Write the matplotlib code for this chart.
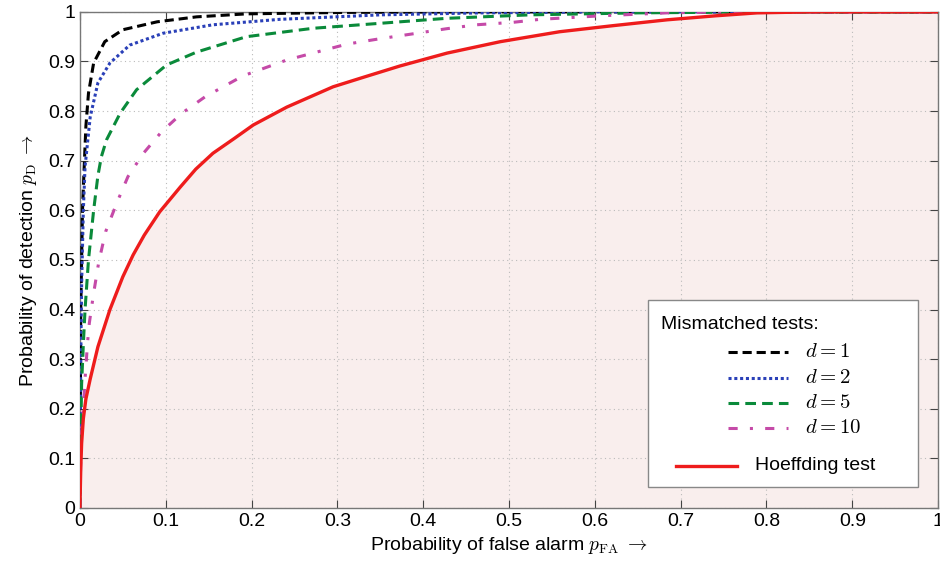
import matplotlib
matplotlib.use("Agg")
import matplotlib.pyplot as plt
from matplotlib.patches import Rectangle
from matplotlib.lines import Line2D

plt.rcParams['font.family'] = ['Liberation Sans', 'DejaVu Sans']
plt.rcParams['mathtext.fontset'] = 'cm'

# ROC curves (p_FA, p_D)
d1_x = [0, 0.001, 0.003, 0.005, 0.007, 0.010, 0.016, 0.029, 0.05, 0.09, 0.136, 0.194, 0.31, 0.45, 1.0]
d1_y = [0, 0.40, 0.60, 0.688, 0.77, 0.836, 0.897, 0.94, 0.964, 0.98, 0.99, 0.996, 0.999, 1.0, 1.0]

d2_x = [0, 0.001, 0.002, 0.004, 0.006, 0.012, 0.021, 0.035, 0.058, 0.097, 0.155, 0.233, 0.35, 0.466, 0.6, 1.0]
d2_y = [0, 0.30, 0.45, 0.60, 0.688, 0.788, 0.857, 0.897, 0.933, 0.957, 0.974, 0.985, 0.994, 0.998, 1.0, 1.0]

d5_x = [0, 0.001, 0.002, 0.004, 0.006, 0.010, 0.016, 0.021, 0.025, 0.031, 0.047, 0.066, 0.101, 0.136,
        0.194, 0.272, 0.35, 0.427, 0.524, 0.65, 0.8, 1.0]
d5_y = [0, 0.15, 0.25, 0.33, 0.40, 0.50, 0.60, 0.67, 0.708, 0.742, 0.796, 0.843, 0.893, 0.919,
        0.95, 0.967, 0.977, 0.987, 0.994, 0.998, 1.0, 1.0]

d10_x = [0, 0.001, 0.002, 0.004, 0.006, 0.009, 0.011, 0.016, 0.022, 0.030, 0.043, 0.056, 0.074, 0.095,
         0.119, 0.146, 0.19, 0.241, 0.276, 0.311, 0.35, 0.389, 0.427, 0.462, 0.505, 0.536, 0.606, 0.684,
         0.75, 1.0]
d10_y = [0, 0.10, 0.15, 0.20, 0.26, 0.335, 0.373, 0.433, 0.496, 0.557, 0.615, 0.668, 0.715, 0.758,
         0.796, 0.829, 0.871, 0.903, 0.919, 0.935, 0.946, 0.956, 0.966, 0.974, 0.979, 0.985, 0.992, 0.998,
         1.0, 1.0]

hoef_x = [0, 0.001, 0.002, 0.004, 0.007, 0.012, 0.021, 0.035, 0.05, 0.062, 0.075, 0.093, 0.117, 0.135,
          0.155, 0.18, 0.202, 0.241, 0.295, 0.33, 0.373, 0.428, 0.49, 0.559, 0.62, 0.684, 0.74, 0.789,
          0.85, 1.0]
hoef_y = [0, 0.08, 0.13, 0.18, 0.22, 0.26, 0.325, 0.40, 0.466, 0.51, 0.55, 0.597, 0.647, 0.683,
          0.715, 0.745, 0.772, 0.808, 0.849, 0.868, 0.891, 0.917, 0.94, 0.96, 0.972, 0.984, 0.992, 0.998,
          1.0, 1.0]

ticks = [0, 0.1, 0.2, 0.3, 0.4, 0.5, 0.6, 0.7, 0.8, 0.9, 1]
tick_labels = ['0', '0.1', '0.2', '0.3', '0.4', '0.5', '0.6', '0.7', '0.8', '0.9', '1']

fig = plt.figure(figsize=(9.4, 5.66), dpi=100)
ax = fig.add_axes([0.085, 0.1025, 0.913, 0.8765])

ax.fill_between(hoef_x, hoef_y, 0, color='#f9eeed', zorder=0, linewidth=0)

ax.plot(d1_x, d1_y, color='black', ls=(0, (3, 1.6)), lw=2.2, zorder=3)
ax.plot(d2_x, d2_y, color='#2a40b8', ls=(0, (1, 0.9)), lw=2.2, zorder=3)
ax.plot(d5_x, d5_y, color='#0a8a3a', ls=(0, (3.5, 2)), lw=2.2, zorder=3)
ax.plot(d10_x, d10_y, color='#c54aa8', ls=(0, (3, 4, 1, 4)), lw=2.2, zorder=3)
ax.plot(hoef_x, hoef_y, color='#ee1c1c', ls='-', lw=2.4, zorder=4)

ax.set_xlim(0, 1)
ax.set_ylim(0, 1)
ax.set_xticks(ticks)
ax.set_xticklabels(tick_labels)
ax.set_yticks(ticks)
ax.set_yticklabels(tick_labels)
ax.grid(True, ls=(0, (1, 3)), color='#bbbbbb', lw=0.8)
ax.tick_params(direction='in', top=True, right=True, length=6, labelsize=14, color='#444444')
for s in ax.spines.values():
    s.set_color('#777777')
    s.set_linewidth(1.0)

ax.set_xlabel(r'Probability of false alarm $p_{\mathrm{FA}}$ $\rightarrow$', fontsize=14, labelpad=4)
ax.set_ylabel(r'Probability of detection $p_{\mathrm{D}}$ $\rightarrow$', fontsize=14, labelpad=6)

# manual legend
tr = ax.transAxes
def ax_x(px):
    return (px - 80) / 858.0
def ax_y(py):
    return (508 - py) / 496.0

ax.add_patch(Rectangle((ax_x(648), ax_y(487)), ax_x(918) - ax_x(648), ax_y(300) - ax_y(487),
                       transform=tr, facecolor='white', edgecolor='#888888', lw=1.0, zorder=6))
ax.text(ax_x(661), ax_y(325), 'Mismatched tests:', transform=tr, fontsize=14, va='center', ha='left', zorder=7)

entries = [
    ('black', (0, (3, 1.6)), r'$d = 1$', 352),
    ('#2a40b8', (0, (1, 0.9)), r'$d = 2$', 378),
    ('#0a8a3a', (0, (3.5, 2)), r'$d = 5$', 403),
    ('#c54aa8', (0, (3, 4, 1, 4)), r'$d = 10$', 428),
]
for col, ls, lab, py in entries:
    ax.add_line(Line2D([ax_x(728), ax_x(788)], [ax_y(py), ax_y(py)], transform=tr, color=col, ls=ls, lw=2.2, zorder=7))
    ax.text(ax_x(805), ax_y(py), lab, transform=tr, fontsize=15, va='center', ha='left', zorder=7)

ax.add_line(Line2D([ax_x(676), ax_x(737)], [ax_y(466), ax_y(466)], transform=tr, color='#ee1c1c', lw=2.4, zorder=7))
ax.text(ax_x(755), ax_y(466), 'Hoeffding test', transform=tr, fontsize=14, va='center', ha='left', zorder=7)

fig.savefig('out.png', dpi=100)
